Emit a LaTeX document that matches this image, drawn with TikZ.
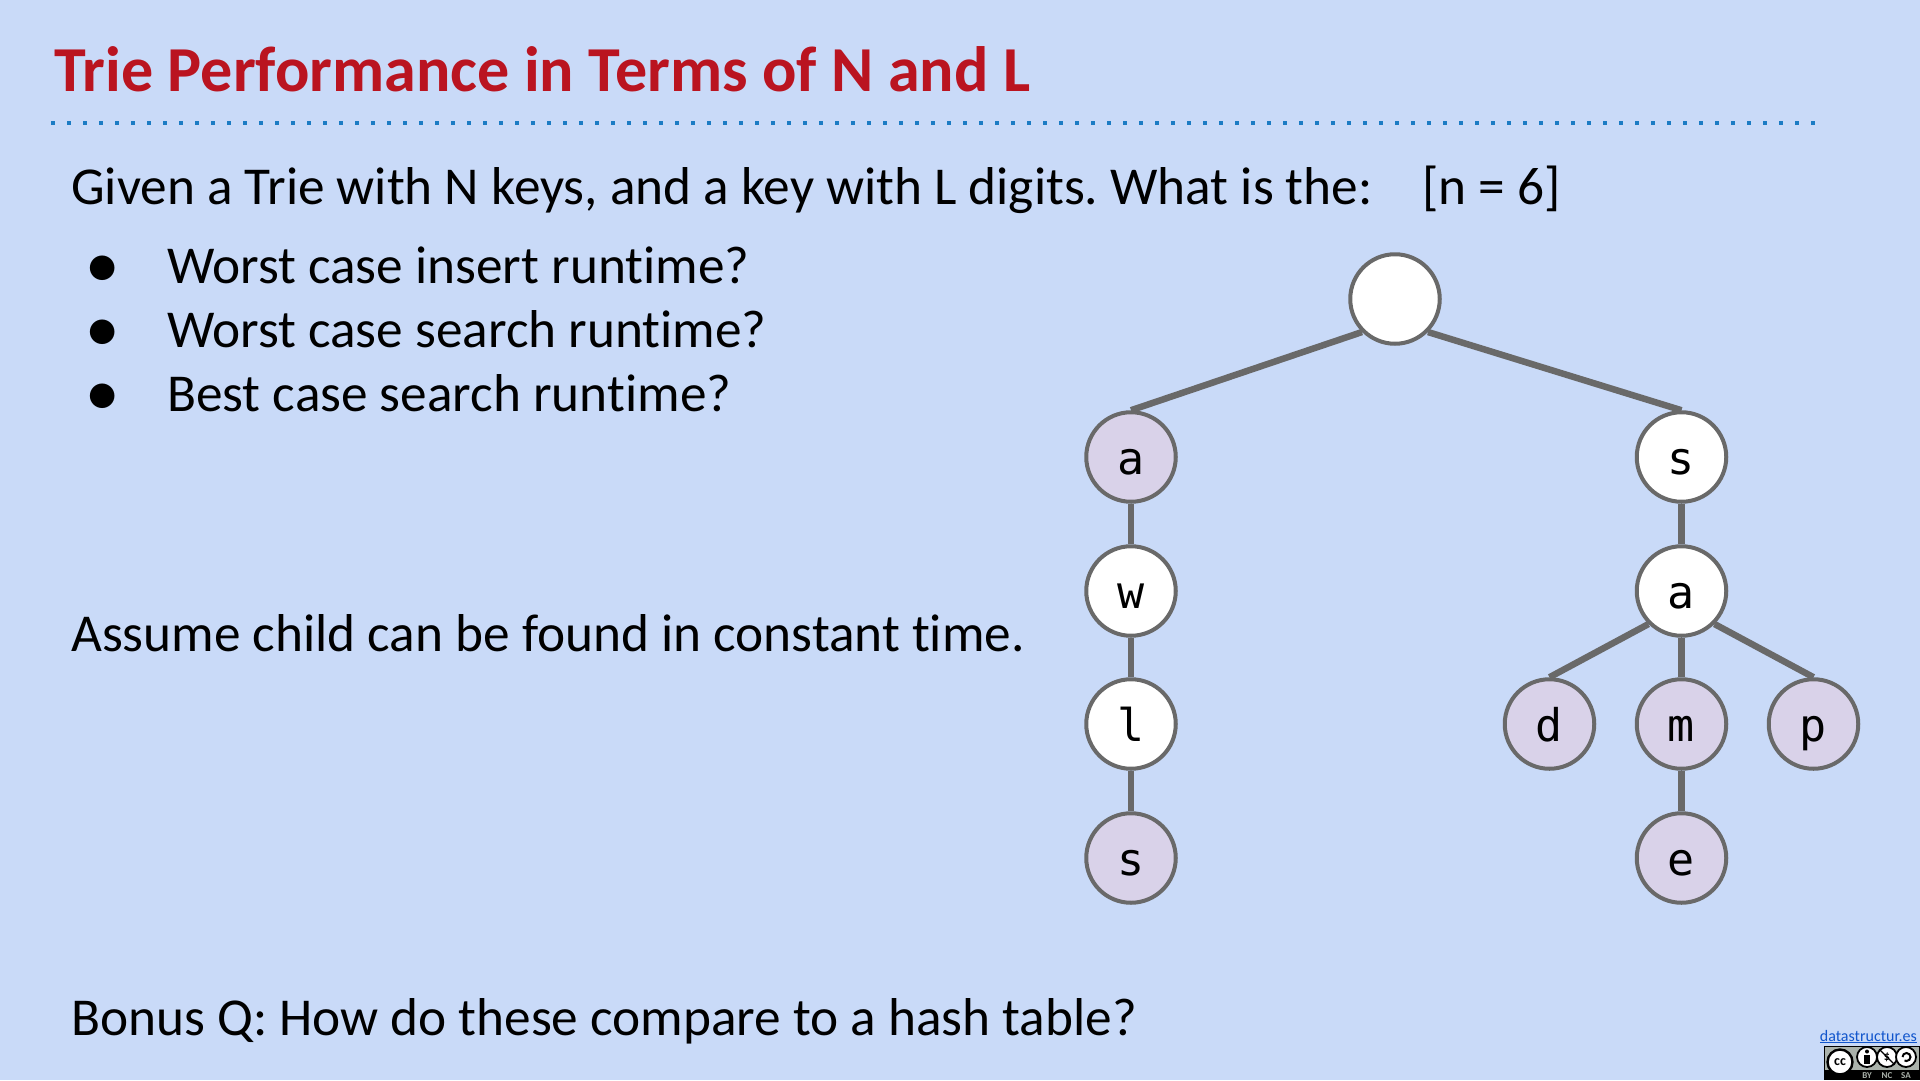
\documentclass[tikz,border=0pt]{standalone}
\usepackage{fontspec}
\setmainfont[Ligatures=NoCommon]{Carlito}
\newfontfamily\monof{DejaVu Sans Mono}
\definecolor{slidebg}{HTML}{C9DAF8}
\definecolor{titlered}{HTML}{BA1420}
\definecolor{dotblue}{HTML}{1C7CC4}
\definecolor{edgegray}{HTML}{696969}
\definecolor{keyfill}{HTML}{D9D2E9}
\definecolor{linkblue}{HTML}{1155CC}
\definecolor{ccgray}{HTML}{AAB2AB}
\tikzset{
  trienode/.style={circle,draw=edgegray,line width=4pt,fill=white,minimum size=89.5pt,inner sep=0pt,text height=35pt,text depth=0pt,font=\monof\fontsize{45}{45}\selectfont,text=black},
  keynode/.style={trienode,fill=keyfill},
  edgeline/.style={draw=edgegray,line width=6.5pt},
  bodytext/.style={anchor=base west,inner sep=0pt,font=\frenchspacing\fontsize{53.3}{53.3}\selectfont,text=black},
  titletext/.style={anchor=base west,inner sep=0pt,font=\bfseries\fontsize{64.1}{64.1}\selectfont,text=titlered},
  ccring/.style={circle,draw=black,line width=1.8pt,fill=white,inner sep=0pt},
  cclabel/.style={inner sep=0pt,font=\bfseries\fontsize{9}{9}\selectfont,text=ccgray}
}
\begin{document}
\begin{tikzpicture}[x=1pt,y=-1pt]
\useasboundingbox (0,0) rectangle (1920,1080);
\fill[slidebg] (0,0) rectangle (1920,1080);
\node[titletext] (title) at (54,91) {Trie Performance in Terms of N and L};
\coordinate (ruleL) at (51,123);
\coordinate (ruleR) at (1816,123);
\draw[dotblue,line width=4pt,dash pattern=on 4pt off 12pt] (ruleL) -- (ruleR);
\node[bodytext] (given) at (71,204) {Given a Trie with N keys, and a key with L digits. What is the:};
\node[bodytext] (nval) at (1422,204) {[n = 6]};
\node[bodytext] (b1) at (86,283) {●};
\node[bodytext] (t1) at (167,283) {Worst case insert runtime?};
\node[bodytext] (b2) at (86,347) {●};
\node[bodytext] (t2) at (167,347) {Worst case search runtime?};
\node[bodytext] (b3) at (86,411) {●};
\node[bodytext] (t3) at (167,411) {Best case search runtime?};
\node[bodytext] (assume) at (71,651) {Assume child can be found in constant time.};
\node[bodytext] (bonus) at (71,1035) {Bonus Q: How do these compare to a hash table?};

\node[trienode] (root) at (1395,299) {};
\node[keynode] (a1) at (1131,457) {a};
\node[trienode] (w) at (1131,591) {w};
\node[trienode] (l) at (1131,724) {l};
\node[keynode] (s1) at (1131,858) {s};
\node[trienode] (s2) at (1681.5,457) {s};
\node[trienode] (a2) at (1681.5,591) {a};
\node[keynode] (d) at (1549.5,724) {d};
\node[keynode] (m) at (1681.5,724) {m};
\node[keynode] (p) at (1813.5,724) {p};
\node[keynode] (e) at (1681.5,858) {e};
\draw[edgeline] (root.south west) -- (a1.north);
\draw[edgeline] (root.south east) -- (s2.north);
\draw[edgeline] (a1) -- (w);
\draw[edgeline] (w) -- (l);
\draw[edgeline] (l) -- (s1);
\draw[edgeline] (s2) -- (a2);
\draw[edgeline] (a2.south west) -- (d.north);
\draw[edgeline] (a2) -- (m);
\draw[edgeline] (a2.south east) -- (p.north);
\draw[edgeline] (m) -- (e);

\node[anchor=base east,inner sep=0pt,font=\fontsize{16}{16}\selectfont,text=linkblue] (link) at (1917,1041) {\underline{datastructur.es}};
\fill[black] (1824,1046) rectangle (1920,1080);
\fill[ccgray] (1825,1047) rectangle (1919,1070);
\node[ccring,minimum size=25pt,line width=2.4pt,font=\bfseries\fontsize{14}{14}\selectfont] (cc) at (1840,1062) {cc};
\node[ccring,minimum size=20pt] (by) at (1867,1057) {};
\node[ccring,minimum size=20pt,font=\bfseries\fontsize{12}{12}\selectfont] (nc) at (1887,1057) {\$};
\node[ccring,minimum size=20pt] (sa) at (1906,1057) {};
\fill[black] (1867,1051.5) circle (2pt);
\fill[black] (1864.2,1054.5) rectangle (1869.8,1064);
\draw[black,line width=2pt] (1902.5,1057) arc[start angle=180,end angle=-120,radius=4pt];
\draw[black,line width=1.2pt] (nc.north west) -- (nc.south east);
\node[cclabel] (byl) at (1867,1075.5) {BY};
\node[cclabel] (ncl) at (1887,1075.5) {NC};
\node[cclabel] (sal) at (1906,1075.5) {SA};
\end{tikzpicture}
\end{document}
